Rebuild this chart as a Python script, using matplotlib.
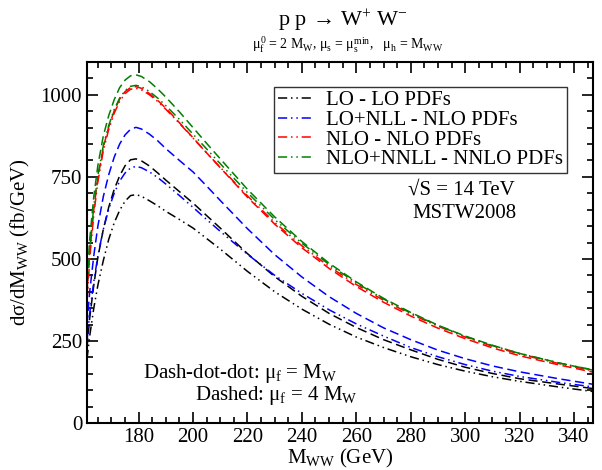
import matplotlib
matplotlib.use("Agg")
import matplotlib.pyplot as plt
from matplotlib.ticker import MultipleLocator

plt.rcParams['font.family'] = ['Liberation Serif', 'DejaVu Serif']
plt.rcParams['mathtext.fontset'] = 'custom'
plt.rcParams['mathtext.rm'] = 'Liberation Serif'
plt.rcParams['mathtext.it'] = 'Liberation Serif'
plt.rcParams['mathtext.bf'] = 'Liberation Serif:bold'

# invariant mass grid (GeV)
m_ww = [161, 162, 163.5, 165, 167, 169, 171, 173, 175, 177, 179, 181, 184, 187,
        190, 195, 200, 205, 210, 220, 230, 240, 250, 260, 270, 280, 290, 300,
        310, 320, 335, 347]

# dsigma/dM_WW (fb/GeV), mu_f = M_W  (dash-dot-dot)
lo_mw = [195, 265, 350, 420, 495, 560, 610, 648, 676, 693, 696, 691, 677, 662,
         645, 620, 594, 562, 530, 462, 400, 347, 301, 262, 230, 202, 178, 158,
         141, 127, 109, 96]
lonll_mw = [250, 335, 430, 510, 590, 652, 700, 737, 762, 777, 782, 778, 765, 748,
            728, 693, 657, 620, 584, 514, 450, 395, 345, 302, 265, 230, 202, 178,
            158, 142, 123, 110]
nlo_mw = [370, 500, 635, 735, 830, 895, 944, 980, 1004, 1017, 1020, 1015, 1000, 980,
          956, 913, 868, 823, 779, 692, 611, 540, 477, 422, 374, 332, 295, 262,
          234, 210, 180, 159]
nnll_mw = [400, 530, 660, 755, 845, 907, 955, 990, 1013, 1026, 1029, 1025, 1010, 990,
           967, 925, 880, 835, 790, 702, 620, 548, 483, 427, 378, 335, 297, 264,
           236, 212, 182, 162]

# dsigma/dM_WW (fb/GeV), mu_f = 4 M_W  (dashed)
lo_4mw = [230, 320, 420, 505, 590, 658, 712, 753, 784, 802, 805, 799, 783, 762,
          740, 705, 670, 632, 594, 516, 446, 386, 334, 291, 254, 223, 194, 170,
          151, 135, 118, 105]
lonll_4mw = [300, 400, 510, 600, 690, 757, 810, 850, 878, 895, 901, 896, 880, 860,
             836, 800, 765, 722, 678, 592, 513, 445, 385, 334, 290, 254, 222, 196,
             174, 156, 134, 118]
nlo_4mw = [390, 520, 650, 748, 840, 903, 951, 987, 1010, 1022, 1025, 1020, 1004, 983,
           959, 915, 869, 823, 778, 688, 606, 534, 471, 416, 368, 326, 289, 257,
           229, 205, 176, 155]
nnll_4mw = [430, 560, 690, 785, 875, 937, 985, 1022, 1045, 1058, 1061, 1056, 1040, 1018,
            993, 948, 900, 852, 805, 712, 628, 553, 487, 430, 380, 337, 298, 265,
            237, 212, 182, 161]

labels = ['LO - LO PDFs', 'LO+NLL - NLO PDFs', 'NLO - NLO PDFs', 'NLO+NNLL - NNLO PDFs']
colors = ['black', 'blue', 'red', 'green']
series_mw = [lo_mw, lonll_mw, nlo_mw, nnll_mw]
series_4mw = [lo_4mw, lonll_4mw, nlo_4mw, nnll_4mw]

dash_dot_dot = (0, (6, 2.5, 1, 2.5, 1, 2.5))
dashed = (0, (6, 3))

fig = plt.figure(figsize=(6.02, 4.70), dpi=100)
ax = fig.add_axes([0.1445, 0.1, 0.8405, 0.768])

for c, y in zip(colors, series_4mw):
    ax.plot(m_ww, y, color=c, lw=1.1, linestyle=dashed)
for c, y, lab in zip(colors, series_mw, labels):
    ax.plot(m_ww, y, color=c, lw=1.1, linestyle=dash_dot_dot, label=lab)

ax.set_xlim(161, 347)
ax.set_ylim(0, 1100)
ax.xaxis.set_major_locator(MultipleLocator(20))
ax.xaxis.set_minor_locator(MultipleLocator(5))
ax.yaxis.set_major_locator(MultipleLocator(250))
ax.yaxis.set_minor_locator(MultipleLocator(50))
ax.tick_params(which='both', direction='in', top=True, right=True, labelsize=15, width=1.2)
ax.tick_params(which='major', length=8)
ax.tick_params(which='minor', length=4)
for s in ax.spines.values():
    s.set_linewidth(1.5)

ax.set_xlabel(r'M$_{\rm WW}$ (GeV)', fontsize=15, labelpad=0)
ax.set_ylabel(r'd$\sigma$/dM$_{\rm WW}$ (fb/GeV)', fontsize=15, labelpad=6)

leg = ax.legend(loc='upper right', bbox_to_anchor=(0.949, 0.932), fontsize=15,
                handlelength=1.6, handletextpad=0.7, labelspacing=0.0,
                borderpad=0.2, frameon=True, fancybox=False, borderaxespad=0)
leg.get_frame().set_edgecolor('black')
leg.get_frame().set_linewidth(1.0)

ax.text(0.74, 0.645, '√S = 14 TeV', transform=ax.transAxes, ha='center', va='center', fontsize=15)
ax.text(0.745, 0.58, 'MSTW2008', transform=ax.transAxes, ha='center', va='center', fontsize=15)
ax.text(0.11, 0.138, r'Dash-dot-dot: $\mu_{\rm f}$ = M$_{\rm W}$', transform=ax.transAxes,
        ha='left', va='center', fontsize=15)
ax.text(0.535, 0.077, r'Dashed: $\mu_{\rm f}$ = 4 M$_{\rm W}$', transform=ax.transAxes,
        ha='right', va='center', fontsize=15)

fig.text(0.57, 0.955, r'p p$\,\rightarrow\,$W$^{+}$ W$^{-}$', ha='center', va='center', fontsize=16)
fig.text(0.577, 0.905,
         r'$\mu_{\rm f}^{0}$ = 2 M$_{\rm W}$, $\mu_{\rm s}$ = $\mu_{\rm s}^{\rm min}$,   $\mu_{\rm h}$ = M$_{\rm WW}$',
         ha='center', va='center', fontsize=10)

fig.savefig('out.png', dpi=100)
